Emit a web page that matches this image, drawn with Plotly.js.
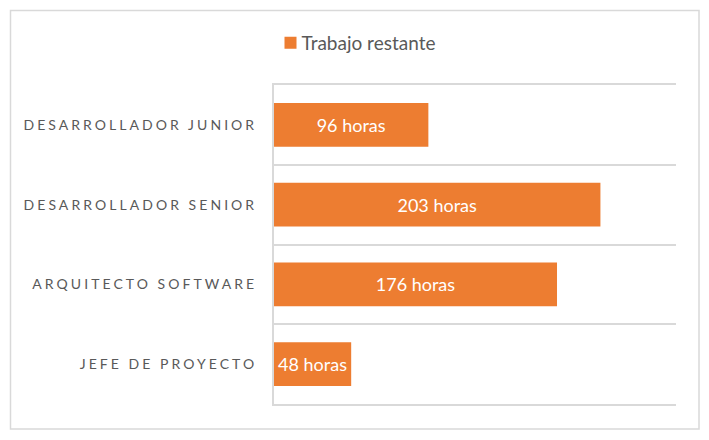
<!DOCTYPE html>
<html>
<head>
<meta charset="utf-8">
<script src="https://cdn.plot.ly/plotly-3.0.1.min.js"></script>
<style>
  html, body { margin: 0; padding: 0; background: #fff; }
  #chart { width: 709px; height: 440px; }
  #chart .ytick text { letter-spacing: 3.05px; }
  #chart .legendtext { transform: translateX(-9px); }
</style>
</head>
<body>
<div id="chart"></div>
<script>
const categories = ["DESARROLLADOR JUNIOR", "DESARROLLADOR SENIOR", "ARQUITECTO SOFTWARE", "JEFE DE PROYECTO"];
const horas = [96, 203, 176, 48];
const seriesName = "Trabajo restante";

const W = 709, H = 440;
const m = { l: 274, r: 33, t: 85, b: 36 };
const pw = W - m.l - m.r, ph = H - m.t - m.b;
const px = v => (v - m.l) / pw;
const py = v => 1 - (v - m.t) / ph;

const trace = {
  type: "bar",
  orientation: "h",
  name: seriesName,
  y: categories,
  x: horas,
  marker: { color: "#ED7D31" },
  texttemplate: "%{x} horas",
  textposition: "inside",
  insidetextanchor: "middle",
  constraintext: "none",
  textfont: { family: "Lato, 'Open Sans', sans-serif", size: 18, color: "#ffffff" },
  hoverinfo: "skip"
};

const layout = {
  width: W, height: H,
  margin: m,
  paper_bgcolor: "#ffffff",
  plot_bgcolor: "#ffffff",
  bargap: 0.45,
  showlegend: true,
  legend: {
    orientation: "h",
    x: px(360), y: py(43),
    xanchor: "center", yanchor: "middle",
    itemwidth: 30,
    font: { family: "Lato, 'Open Sans', sans-serif", size: 19, color: "#595959" },
    itemclick: false
  },
  xaxis: {
    range: [0, 250],
    showticklabels: false,
    showgrid: false,
    zeroline: false,
    showline: true,
    mirror: true,
    linecolor: "#d9d9d9",
    linewidth: 2,
    fixedrange: true
  },
  yaxis: {
    type: "category",
    autorange: "reversed",
    tickson: "boundaries",
    ticks: "",
    showgrid: true,
    gridcolor: "#d9d9d9",
    gridwidth: 2,
    showline: true,
    linecolor: "#d9d9d9",
    linewidth: 2,
    ticklabelstandoff: 12,
    tickfont: { family: "Lato, 'Open Sans', sans-serif", size: 14, color: "#595959" },
    fixedrange: true
  },
  shapes: [{
    type: "rect", xref: "paper", yref: "paper",
    x0: px(10.5), x1: px(699), y0: py(429), y1: py(10.5),
    line: { color: "#d9d9d9", width: 1.5 },
    fillcolor: "rgba(0,0,0,0)",
    layer: "below"
  }]
};

Plotly.newPlot("chart", [trace], layout, { displayModeBar: false, staticPlot: true });
</script>
</body>
</html>
